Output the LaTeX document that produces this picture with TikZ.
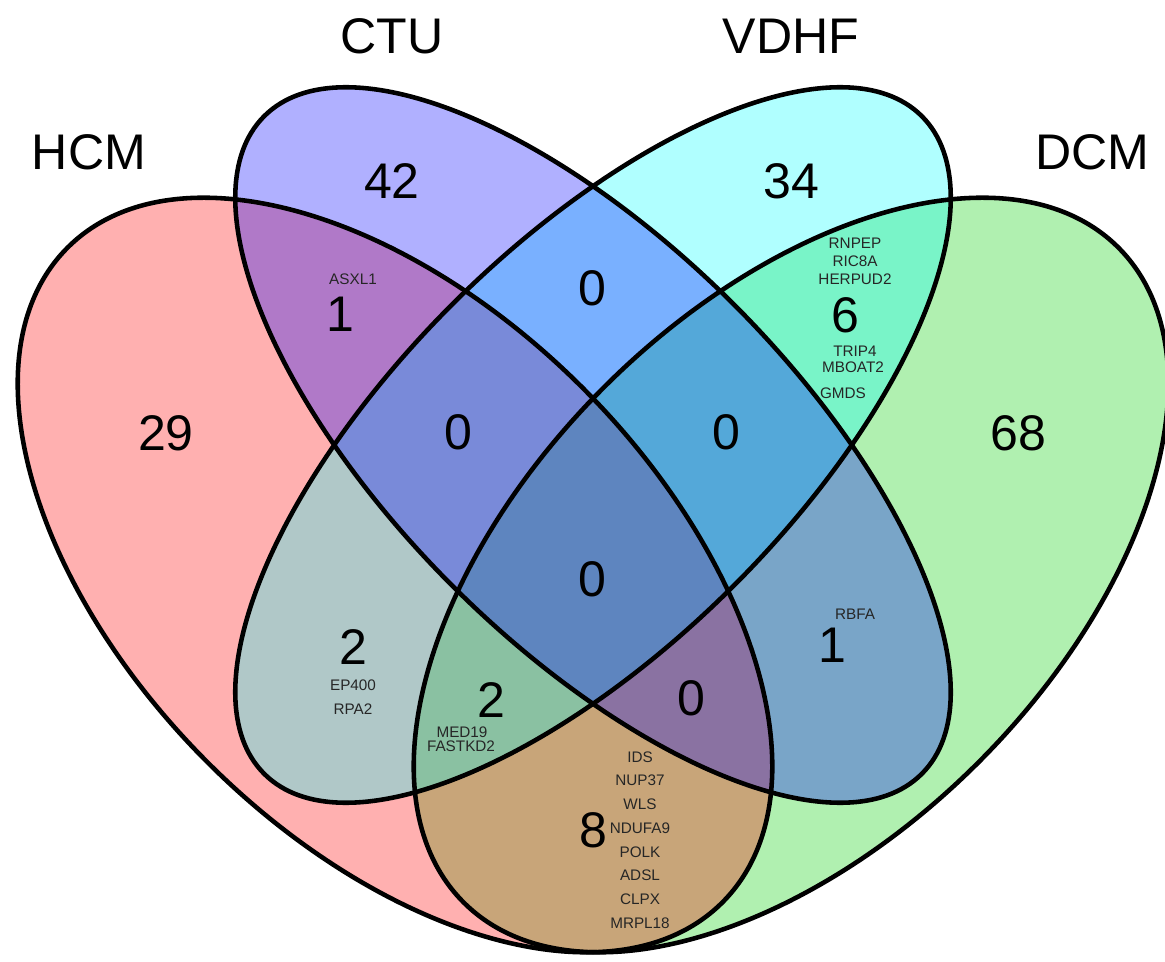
\documentclass[tikz,border=0pt]{standalone}
\usepackage{fontspec}
\setmainfont{Liberation Sans}
\usetikzlibrary{positioning}
\definecolor{hcmred}{RGB}{255,0,0}
\definecolor{ctublue}{RGB}{0,0,255}
\definecolor{vdhfcyan}{RGB}{0,255,255}
\definecolor{dcmgreen}{RGB}{0,205,0}
\tikzset{
  every node/.style={inner sep=0pt},
  setfill/.style={fill=#1, fill opacity=0.31},
  setline/.style={draw=black, line width=2.6pt},
  setname/.style={font=\fontsize{28.5}{30}\selectfont},
  areanum/.style={font=\fontsize{28.5}{30}\selectfont},
  gene/.style={font=\fontsize{8.7}{9}\selectfont, text=black!85}
}

\begin{document}
\begin{tikzpicture}[x=0.02cm, y=-0.02cm]
\useasboundingbox (0,0) rectangle (1165,962);

% fills, bottom to top
\fill[setfill=dcmgreen, rotate around={45:(791,575)}] (791,575) ellipse [x radius=463, y radius=265];
\fill[setfill=hcmred, rotate around={-45:(395,575)}] (395,575) ellipse [x radius=463, y radius=265];
\fill[setfill=vdhfcyan, rotate around={45:(593,445)}] (593,445) ellipse [x radius=465, y radius=199];
\fill[setfill=ctublue, rotate around={-45:(593,445)}] (593,445) ellipse [x radius=465, y radius=199];

% outlines
\draw[setline, rotate around={45:(791,575)}] (791,575) ellipse [x radius=463, y radius=265];
\draw[setline, rotate around={-45:(395,575)}] (395,575) ellipse [x radius=463, y radius=265];
\draw[setline, rotate around={45:(593,445)}] (593,445) ellipse [x radius=465, y radius=199];
\draw[setline, rotate around={-45:(593,445)}] (593,445) ellipse [x radius=465, y radius=199];

% set names
\node[setname] (hcm) at (89,152) {HCM};
\node[setname] (ctu) at (392,36) {CTU};
\node[setname] (vdhf) at (791,36) {VDHF};
\node[setname] (dcm) at (1092,152) {DCM};

% counts
\node[areanum] (n29) at (166,433) {29};
\node[areanum] (n42) at (392,181) {42};
\node[areanum] (n34) at (791,181) {34};
\node[areanum] (n68) at (1018,433) {68};
\node[areanum] (nhc) at (340,314) {1};
\node[areanum] (ncv) at (592,288) {0};
\node[areanum] (nvd) at (845,315) {6};
\node[areanum] (nhcv) at (458,432) {0};
\node[areanum] (ncvd) at (726,432) {0};
\node[areanum] (nall) at (592,579) {0};
\node[areanum] (nhv) at (353,647) {2};
\node[areanum] (ncd) at (832,645) {1};
\node[areanum] (nhvd) at (491,700) {2};
\node[areanum] (nhcd) at (691,698) {0};
\node[areanum] (nhd) at (593,830) {8};

% gene names
\node[gene] (asxl) at (353,279) {ASXL1};
\node[gene] (rbfa) at (855,614) {RBFA};
\node[gene] (ep400) at (353,685) {EP400};
\node[gene] (rpa2) at (353,709) {RPA2};
\node[gene] (med19) at (462,732) {MED19};
\node[gene] (fastkd) at (461,746) {FASTKD2};
\foreach \g [count=\i] in {RNPEP,RIC8A,HERPUD2}
  \node[gene] (g6a-\i) at (855,{243+18*(\i-1)}) {\g};
\node[gene] (trip4) at (855,351) {TRIP4};
\node[gene] (mboat) at (853,367) {MBOAT2};
\node[gene] (gmds) at (843,393) {GMDS};
\foreach \g [count=\i] in {IDS,NUP37,WLS,NDUFA9,POLK,ADSL,CLPX,MRPL18}
  \node[gene] (g8-\i) at (640,{757+23.7*(\i-1)}) {\g};

\end{tikzpicture}
\end{document}
